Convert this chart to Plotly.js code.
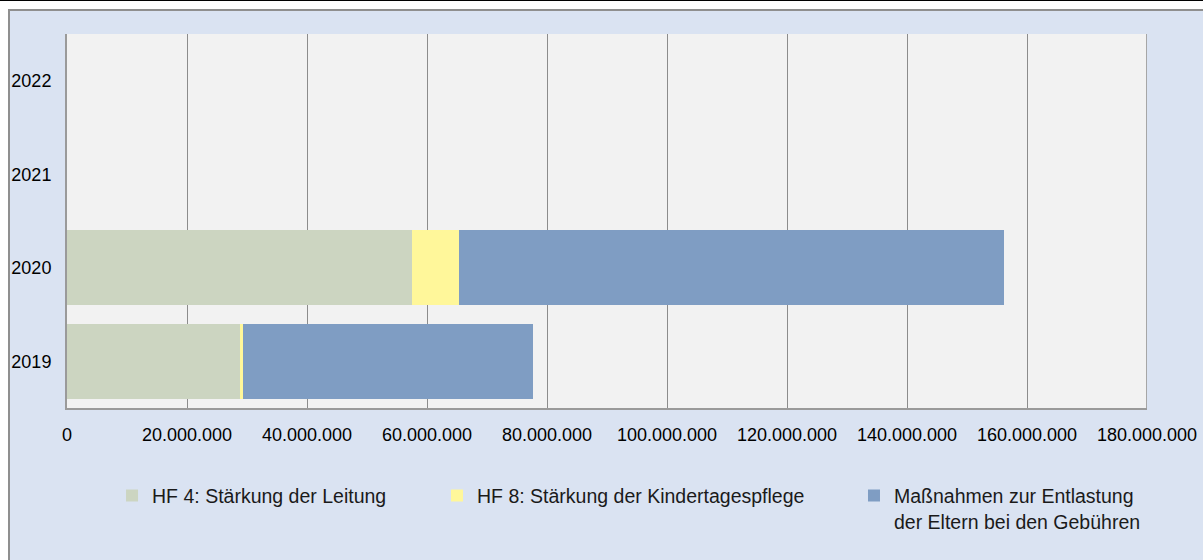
<!DOCTYPE html>
<html>
<head>
<meta charset="utf-8">
<script src="https://cdn.plot.ly/plotly-3.0.1.min.js"></script>
<style>
  html, body { margin: 0; padding: 0; background: #ffffff; width: 1203px; height: 560px; overflow: hidden; }
  #topline { position: absolute; left: 0; top: 0; width: 1203px; height: 1px; background: #000; }
  #frame { position: absolute; left: 8px; top: 9px; width: 1193px; height: 549px;
           border-left: 2px solid #8f8f8f; border-top: 2px solid #8f8f8f; background: #DAE3F2; }
  #chart { width: 1193px; height: 549px; }
</style>
</head>
<body>
<div id="topline"></div>
<div id="frame"><div id="chart"></div></div>
<script>
// Data (in EUR)
const years = ["2019", "2020", "2021", "2022"];
const hf4Leitung = [28830000, 57450000, null, null];
const hf8Kindertagespflege = [450000, 7950000, null, null];
const entlastungEltern = [48400000, 90800000, null, null];
const seriesNames = [
  "HF 4: Stärkung der Leitung",
  "HF 8: Stärkung der Kindertagespflege",
  "Maßnahmen zur Entlastung<br>der Eltern bei den Gebühren"
];
const xTicks = [0, 20000000, 40000000, 60000000, 80000000, 100000000, 120000000, 140000000, 160000000, 180000000];

const colors = ["#CCD5C1", "#FFF79A", "#7F9DC3"];
const font = "Liberation Sans, Arial, sans-serif";
const xMax = xTicks[xTicks.length - 1];

const traces = [hf4Leitung, hf8Kindertagespflege, entlastungEltern].map((vals, i) => ({
  type: "bar",
  orientation: "h",
  y: years,
  x: vals,
  name: seriesNames[i],
  legend: i === 0 ? "legend" : ("legend" + (i + 1)),
  marker: { color: colors[i], line: { width: 0 } },
  hoverinfo: "x+name"
}));

const legendBase = {
  orientation: "h",
  bgcolor: "rgba(0,0,0,0)",
  borderwidth: 0,
  font: { family: font, size: 19.5, color: "#1a1a1a" },
  yanchor: "top",
  y: -0.183,
  xanchor: "left",
  valign: "top",
  itemwidth: 30
};

const layout = {
  width: 1193,
  height: 549,
  margin: { l: 57, r: 56, t: 23, b: 152 },
  paper_bgcolor: "#DAE3F2",
  plot_bgcolor: "#F2F2F2",
  separators: ",.",
  barmode: "stack",
  bargap: 0.2,
  font: { family: font, size: 18, color: "#000" },
  xaxis: {
    range: [0, xMax],
    tickvals: xTicks,
    tickformat: ",d",
    showgrid: true,
    gridcolor: "#8c8c8c",
    gridwidth: 1,
    showline: true,
    linecolor: "#9a9a9a",
    linewidth: 1.5,
    zeroline: false,
    ticks: "",
    ticklabelstandoff: 10,
    tickfont: { family: font, size: 18, color: "#000" },
    fixedrange: true
  },
  yaxis: {
    type: "category",
    categoryorder: "array",
    categoryarray: years,
    showgrid: false,
    showline: true,
    linecolor: "#9a9a9a",
    linewidth: 2,
    zeroline: false,
    ticks: "",
    ticklabelstandoff: 10,
    tickfont: { family: font, size: 18, color: "#000" },
    fixedrange: true
  },
  shapes: [{
    type: "line", xref: "x", yref: "paper",
    x0: xMax, x1: xMax, y0: 0, y1: 1,
    line: { color: "#8c8c8c", width: 1.5 }, layer: "below"
  }],
  legend: Object.assign({}, legendBase, { x: 0.0417 }),
  legend2: Object.assign({}, legendBase, { x: 0.3426 }),
  legend3: Object.assign({}, legendBase, { x: 0.7287 }),
  showlegend: true
};

Plotly.newPlot("chart", traces, layout, { displayModeBar: false, staticPlot: true });
</script>
</body>
</html>
